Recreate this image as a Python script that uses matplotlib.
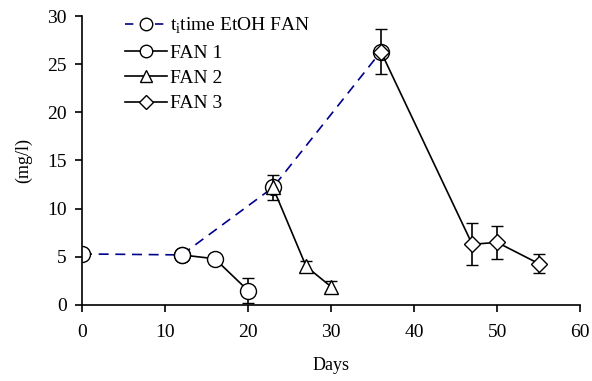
import matplotlib
matplotlib.use("Agg")
import matplotlib.pyplot as plt
from matplotlib.lines import Line2D

plt.rcParams['font.family'] = ['Liberation Serif', 'DejaVu Serif']
plt.rcParams['mathtext.fontset'] = 'custom'
plt.rcParams['mathtext.rm'] = 'Liberation Serif'

# dashed series
ti_x = [0, 12, 23, 36]
ti_y = [5.3, 5.2, 12.2, 26.3]

fan1_x = [12, 16, 20]
fan1_y = [5.2, 4.8, 1.5]
fan1_e = [0, 0, 1.3]

fan2_x = [23, 27, 30]
fan2_y = [12.2, 4.0, 1.9]
fan2_e = [1.3, 0.6, 0.6]

fan3_x = [36, 47, 50, 55]
fan3_y = [26.3, 6.3, 6.5, 4.3]
fan3_e = [2.3, 2.2, 1.7, 1.0]

labels = ['t$_{\\mathrm{i}}$time EtOH FAN', 'FAN 1', 'FAN 2', 'FAN 3']

fig = plt.figure(figsize=(5.92, 3.81), dpi=100)
ax = fig.add_axes([0.1385, 0.1995, 0.8415, 0.7585])

dash = (0, (6, 4))
ax.plot(ti_x, ti_y, color='#00008B', ls=dash, lw=1.2, marker='o', ms=11.5,
        mfc='white', mec='black', mew=1.0, zorder=2)
ax.errorbar(fan1_x, fan1_y, yerr=fan1_e, color='black', lw=1.2, marker='o', ms=11.5,
            mfc='white', mec='black', mew=1.0, capsize=4, elinewidth=1.2, zorder=3)
ax.errorbar(fan2_x, fan2_y, yerr=fan2_e, color='black', lw=1.2, marker='^', ms=10,
            mfc='white', mec='black', mew=1.0, capsize=4, elinewidth=1.2, zorder=3)
ax.errorbar(fan3_x, fan3_y, yerr=fan3_e, color='black', lw=1.2, marker='D', ms=8.5,
            mfc='white', mec='black', mew=1.0, capsize=4, elinewidth=1.2, zorder=4)

handles = [
    Line2D([], [], color='#00008B', ls=(0, (5, 4)), lw=1.2, marker='o', ms=9, mfc='white', mec='black'),
    Line2D([], [], color='black', lw=1.2, marker='o', ms=9, mfc='white', mec='black'),
    Line2D([], [], color='black', lw=1.2, marker='^', ms=8, mfc='white', mec='black'),
    Line2D([], [], color='black', lw=1.2, marker='D', ms=7, mfc='white', mec='black'),
]

ax.set_xlim(0, 60)
ax.set_ylim(0, 30)
ax.set_xticks(range(0, 61, 10))
ax.set_yticks(range(0, 31, 5))
ax.spines['top'].set_visible(False)
ax.spines['right'].set_visible(False)
for s in ['left', 'bottom']:
    ax.spines[s].set_linewidth(1.2)
ax.tick_params(direction='out', length=5, width=1.2, labelsize=14)
ax.tick_params(axis='x', pad=9)
ax.tick_params(axis='y', pad=6)
ax.set_xlabel('Days', fontsize=13, labelpad=11)
ax.set_ylabel('(mg/l)', fontsize=13, labelpad=11)

leg = ax.legend(handles, labels, loc='upper left', bbox_to_anchor=(0.086, 1.0), frameon=False,
                fontsize=14, handlelength=2.15, handletextpad=0.15, labelspacing=0.4,
                borderaxespad=0, borderpad=0)

fig.savefig('out.png', dpi=100)
